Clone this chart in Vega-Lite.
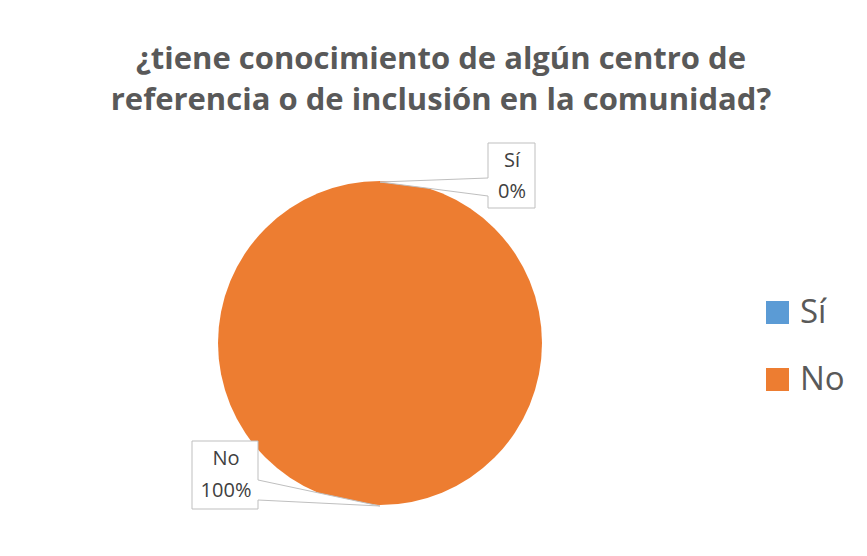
{
  "$schema": "https://vega.github.io/schema/vega-lite/v6.json",
  "autosize": {"type": "none"},
  "padding": {"left": 218, "top": 181, "right": 325, "bottom": 51},
  "width": 324,
  "height": 324,
  "background": "white",
  "title": {
    "text": ["¿tiene conocimiento de algún centro de", "referencia o de inclusión en la comunidad?"],
    "font": "Open Sans",
    "fontSize": 31,
    "fontWeight": "bold",
    "color": "#595959",
    "anchor": "middle",
    "dx": 61,
    "offset": 24,
    "lineHeight": 41
  },
  "data": {"values": [{"cat": "Sí", "pct": 0}, {"cat": "No", "pct": 1}]},
  "layer": [
    {
      "mark": {"type": "arc"},
      "encoding": {
        "theta": {"field": "pct", "type": "quantitative", "stack": true},
        "color": {
          "field": "cat",
          "type": "nominal",
          "sort": ["Sí", "No"],
          "scale": {"domain": ["Sí", "No"], "range": ["#5B9BD5", "#ED7D31"]},
          "legend": {
            "orient": "none",
            "legendX": 543,
            "legendY": 115,
            "title": null,
            "symbolType": "square",
            "symbolSize": 529,
            "symbolStrokeWidth": 0,
            "symbolOpacity": 1,
            "labelFont": "Open Sans",
            "labelFontSize": 33,
            "labelColor": "#595959",
            "labelOffset": 6,
            "rowPadding": 33
          }
        }
      }
    },
    {
      "transform": [{"filter": {"field": "cat", "equal": "Sí"}}],
      "mark": {"type": "point", "filled": true, "fill": "white", "stroke": "#bfbfbf", "strokeWidth": 1, "opacity": 1, "size": 4,
        "shape": "M108,-200L155,-200L155,-135L108,-135L108,-147L0,-161L108,-165Z"},
      "encoding": {}
    },
    {
      "transform": [{"filter": {"field": "cat", "equal": "No"}}],
      "mark": {"type": "point", "filled": true, "fill": "white", "stroke": "#bfbfbf", "strokeWidth": 1, "opacity": 1, "size": 4,
        "shape": "M-188,98L-122,98L-122,137L0,163L-122,157L-122,166L-188,166Z"},
      "encoding": {}
    },
    {
      "transform": [{"filter": {"field": "cat", "equal": "Sí"}}],
      "mark": {"type": "text", "font": "Open Sans", "fontSize": 20, "color": "#404040", "dx": 132, "dy": -182},
      "encoding": {"text": {"field": "cat", "type": "nominal"}}
    },
    {
      "transform": [{"filter": {"field": "cat", "equal": "Sí"}}],
      "mark": {"type": "text", "font": "Open Sans", "fontSize": 20, "color": "#404040", "dx": 132, "dy": -151},
      "encoding": {"text": {"field": "pct", "type": "quantitative", "format": ".0%"}}
    },
    {
      "transform": [{"filter": {"field": "cat", "equal": "No"}}],
      "mark": {"type": "text", "font": "Open Sans", "fontSize": 20, "color": "#404040", "dx": -154, "dy": 116},
      "encoding": {"text": {"field": "cat", "type": "nominal"}}
    },
    {
      "transform": [{"filter": {"field": "cat", "equal": "No"}}],
      "mark": {"type": "text", "font": "Open Sans", "fontSize": 20, "color": "#404040", "dx": -154, "dy": 148},
      "encoding": {"text": {"field": "pct", "type": "quantitative", "format": ".0%"}}
    }
  ],
  "config": {"view": {"stroke": null}}
}
